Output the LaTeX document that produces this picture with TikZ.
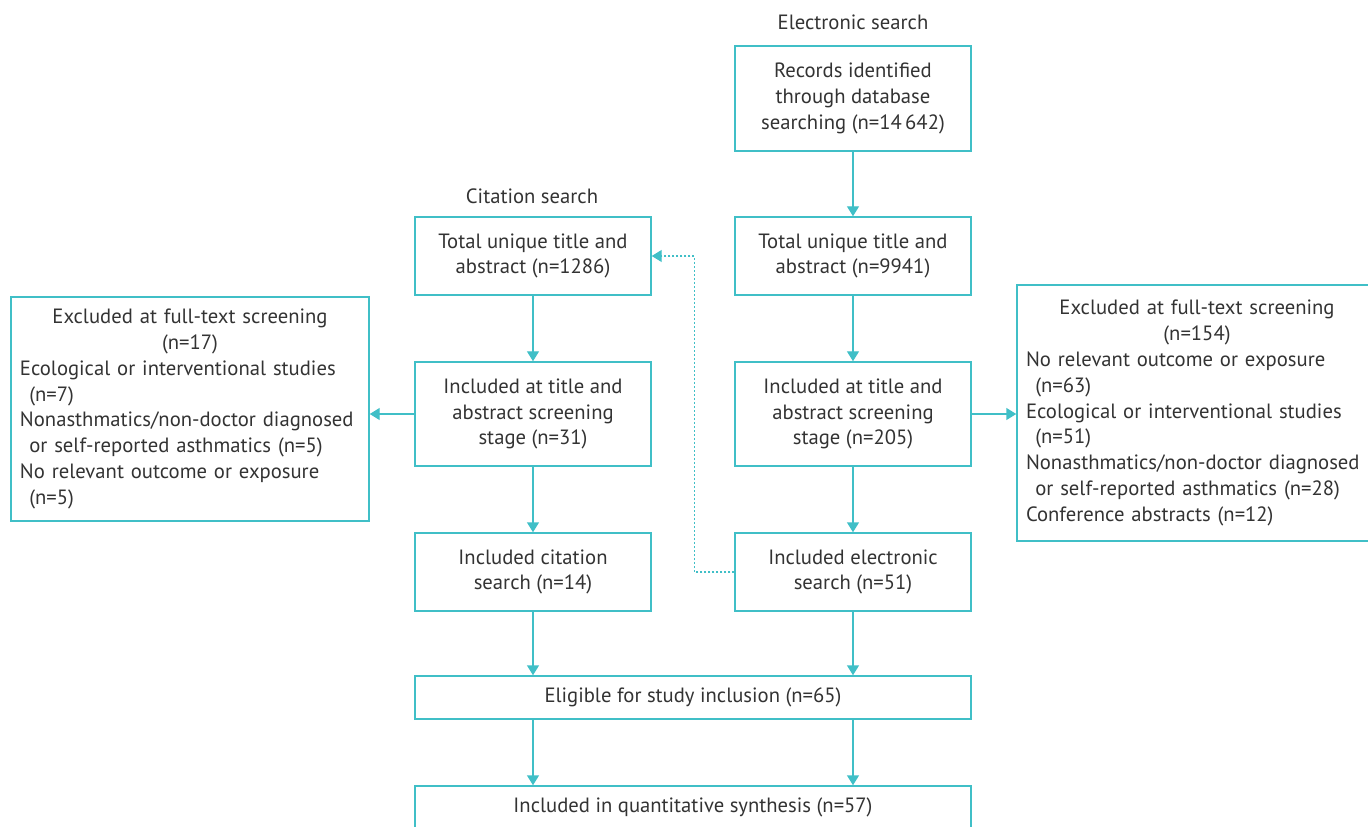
\documentclass[tikz,border=0pt]{standalone}
\usepackage{fontspec}
\setmainfont{PT Sans}
\usepackage{tikz}
\definecolor{flowline}{HTML}{40BFC7}
\definecolor{flowtext}{HTML}{333333}
\usetikzlibrary{arrows.meta,positioning}
\tikzstyle{line} = [draw=flowline, line width=1.1pt, -{Triangle[length=7.5pt,width=9pt]}]
\tikzstyle{dotline} = [line, line width=0.9pt, dash pattern=on 1.5pt off 1.5pt]
\tikzstyle{box} = [draw=flowline, line width=1.1pt, align=center, minimum width=177pt, inner sep=0pt, text=flowtext]
\tikzstyle{excl} = [draw=flowline, line width=1.1pt, align=left, inner xsep=6.75pt, inner ysep=0pt, text=flowtext]
\tikzstyle{title} = [text=flowtext, inner sep=0pt]
\newcommand{\hang}{\hspace*{0.45em}}

\begin{document}
\begin{tikzpicture}[x=0.75pt,y=-0.75pt,font=\fontsize{15.5}{19.4}\selectfont]
	\useasboundingbox (0,0) rectangle (1368,827);
	% Headings
	\node[title] (elec) at (853,22) {Electronic search};
	\node[title] (cit) at (532,196) {Citation search};
	% Electronic search column
	\node[box, minimum height=78.75pt] (E1) at (853,98.5)
		{Records identified\\through database\\searching (n=14\,642)};
	\node[box, minimum height=58.5pt] (E2) at (853,256)
		{Total unique title and\\abstract (n=9941)};
	\node[box, minimum height=78pt] (E3) at (853,414)
		{Included at title and\\abstract screening\\stage (n=205)};
	\node[box, minimum height=58.5pt] (E4) at (853,572)
		{Included electronic\\search (n=51)};
	% Citation search column
	\node[box, minimum height=58.5pt] (C1) at (533,256)
		{Total unique title and\\abstract (n=1286)};
	\node[box, minimum height=78pt] (C2) at (533,414)
		{Included at title and\\abstract screening\\stage (n=31)};
	\node[box, minimum height=58.5pt] (C3) at (533,572)
		{Included citation\\search (n=14)};
	% Merged
	\node[box, minimum width=417pt, minimum height=32.25pt] (elig) at (693,697.5)
		{Eligible for study inclusion (n=65)};
	\node[box, minimum width=417pt, minimum height=32.25pt] (final) at (693,807.5)
		{Included in quantitative synthesis (n=57)};
	% Exclusions
	\node[excl, text width=255pt, minimum height=168pt] (lexcl) at (190,409) {%
		\makebox[\linewidth]{Excluded at full-text screening}\\
		\makebox[\linewidth]{(n=17)}\\
		Ecological or interventional studies\\
		\hang(n=7)\\
		Nonasthmatics/non-doctor diagnosed\\
		\hang or self-reported asthmatics (n=5)\\
		No relevant outcome or exposure\\
		\hang(n=5)};
	\node[excl, text width=256.5pt, minimum height=192pt] (rexcl) at (1197,413) {%
		\makebox[\linewidth]{Excluded at full-text screening}\\
		\makebox[\linewidth]{(n=154)}\\
		No relevant outcome or exposure\\
		\hang(n=63)\\
		Ecological or interventional studies\\
		\hang(n=51)\\
		Nonasthmatics/non-doctor diagnosed\\
		\hang or self-reported asthmatics (n=28)\\
		Conference abstracts (n=12)};
	% Flows
	\draw[line] (E1) -- (E2);
	\draw[line] (E2) -- (E3);
	\draw[line] (E3) -- (E4);
	\draw[line] (C1) -- (C2);
	\draw[line] (C2) -- (C3);
	\draw[line] (C3.south) -- (C3.south |- elig.north);
	\draw[line] (E4.south) -- (E4.south |- elig.north);
	\draw[line] (C3.south |- elig.south) -- (C3.south |- final.north);
	\draw[line] (E4.south |- elig.south) -- (E4.south |- final.north);
	\draw[line] (C2.west) -- (C2.west -| lexcl.east);
	\draw[line] (E3.east) -- (E3.east -| rexcl.west);
	\draw[dotline] (E4.west) -- ++(-40,0) |- (C1.east);
\end{tikzpicture}
\end{document}
